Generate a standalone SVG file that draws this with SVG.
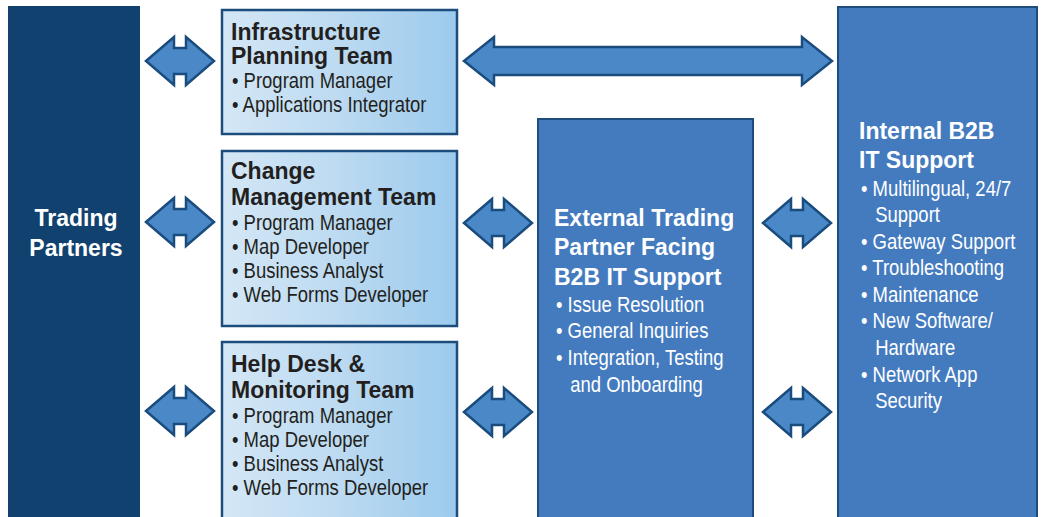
<svg xmlns="http://www.w3.org/2000/svg" width="1041" height="517" viewBox="0 0 1041 517">
  <defs>
    <linearGradient id="lg" x1="0" y1="0" x2="1" y2="0">
      <stop offset="0" stop-color="#d4e7f6"/>
      <stop offset="0.5" stop-color="#bcdaf1"/>
      <stop offset="1" stop-color="#9ccaed"/>
    </linearGradient>
    <path id="sa" d="M0,0 L28,-24 L28,-13 L40,-13 L40,-24 L68,0 L40,24 L40,13 L28,13 L28,24 Z"/>
  </defs>
  <style>
    .team{fill:url(#lg);stroke:#1d4d7d;stroke-width:2.5}
    .blue{fill:#447bbf;stroke:#1d4d7d;stroke-width:2}
    .arr{fill:#4a88c8;stroke:#1a4c7d;stroke-width:2.5;stroke-linejoin:miter}
    .t{font-family:"Liberation Sans",Arial,sans-serif;font-weight:bold;font-size:23px}
    .b{font-family:"Liberation Sans",Arial,sans-serif;font-size:21.5px}
    .dk{fill:#231f20}
    .wh{fill:#ffffff}
  </style>

  <g id="trading-partners">
    <rect x="8" y="6" width="132" height="515" fill="#11426f"/>
    <text class="t wh" x="76" y="226" text-anchor="middle">Trading</text>
    <text class="t wh" x="76" y="256" text-anchor="middle">Partners</text>
  </g>

  <g id="infrastructure-team">
    <rect class="team" x="222" y="10" width="235" height="124"/>
    <text class="t dk" x="231" y="40">Infrastructure</text>
    <text class="t dk" x="231" y="64">Planning Team</text>
    <g transform="translate(232 0) scale(0.86 1)">
      <text class="b dk" x="0" y="88">• Program Manager</text>
      <text class="b dk" x="0" y="112">• Applications Integrator</text>
    </g>
  </g>

  <g id="change-team">
    <rect class="team" x="222" y="151" width="235" height="175"/>
    <text class="t dk" x="231" y="179">Change</text>
    <text class="t dk" x="231" y="205">Management Team</text>
    <g transform="translate(232 0) scale(0.86 1)">
      <text class="b dk" x="0" y="230">• Program Manager</text>
      <text class="b dk" x="0" y="254">• Map Developer</text>
      <text class="b dk" x="0" y="278">• Business Analyst</text>
      <text class="b dk" x="0" y="302">• Web Forms Developer</text>
    </g>
  </g>

  <g id="helpdesk-team">
    <rect class="team" x="222" y="342" width="235" height="185"/>
    <text class="t dk" x="231" y="372">Help Desk &amp;</text>
    <text class="t dk" x="231" y="398">Monitoring Team</text>
    <g transform="translate(232 0) scale(0.86 1)">
      <text class="b dk" x="0" y="423">• Program Manager</text>
      <text class="b dk" x="0" y="447">• Map Developer</text>
      <text class="b dk" x="0" y="471">• Business Analyst</text>
      <text class="b dk" x="0" y="495">• Web Forms Developer</text>
    </g>
  </g>

  <g id="external-support">
    <rect class="blue" x="538" y="119" width="215" height="410"/>
    <text class="t wh" x="554" y="226">External Trading</text>
    <text class="t wh" x="554" y="255">Partner Facing</text>
    <text class="t wh" x="554" y="285">B2B IT Support</text>
    <g transform="translate(556 0) scale(0.86 1)">
      <text class="b wh" x="0" y="312">• Issue Resolution</text>
      <text class="b wh" x="0" y="338">• General Inquiries</text>
      <text class="b wh" x="0" y="365">• Integration, Testing</text>
      <text class="b wh" x="16.5" y="392">and Onboarding</text>
    </g>
  </g>

  <g id="internal-support">
    <rect class="blue" x="838" y="7" width="199" height="522"/>
    <text class="t wh" x="859" y="139">Internal B2B</text>
    <text class="t wh" x="859" y="168">IT Support</text>
    <g transform="translate(861 0) scale(0.86 1)">
      <text class="b wh" x="0" y="196">• Multilingual, 24/7</text>
      <text class="b wh" x="16.5" y="222">Support</text>
      <text class="b wh" x="0" y="249">• Gateway Support</text>
      <text class="b wh" x="0" y="275">• Troubleshooting</text>
      <text class="b wh" x="0" y="302">• Maintenance</text>
      <text class="b wh" x="0" y="328">• New Software/</text>
      <text class="b wh" x="16.5" y="355">Hardware</text>
      <text class="b wh" x="0" y="382">• Network App</text>
      <text class="b wh" x="16.5" y="408">Security</text>
    </g>
  </g>

  <g id="connectors">
    <use href="#sa" class="arr" x="146" y="61"/>
    <use href="#sa" class="arr" x="146" y="222"/>
    <use href="#sa" class="arr" x="146" y="411"/>
    <use href="#sa" class="arr" x="464" y="223"/>
    <use href="#sa" class="arr" x="464" y="412"/>
    <use href="#sa" class="arr" x="763" y="223"/>
    <use href="#sa" class="arr" x="763" y="412"/>
    <path class="arr" d="M464,61 L494,37 L494,47 L802,47 L802,37 L832,61 L802,85 L802,75 L494,75 L494,85 Z"/>
  </g>
</svg>
